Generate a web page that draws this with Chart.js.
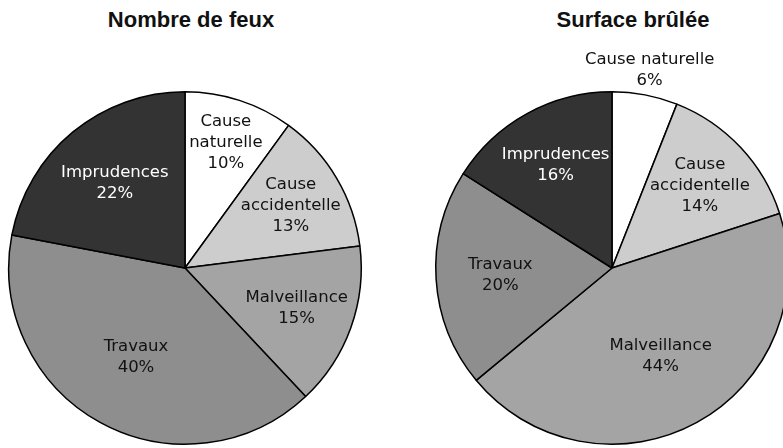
<!DOCTYPE html>
<html>
<head>
<meta charset="utf-8">
<script src="https://cdn.jsdelivr.net/npm/chart.js@4/dist/chart.umd.min.js"></script>
<style>
  html, body { margin: 0; padding: 0; background: #fff; }
  body { width: 783px; height: 448px; overflow: hidden; position: relative; }
  .box { position: absolute; top: 0; height: 448px; }
  .title {
    position: absolute; top: 7px; width: 300px; margin-left: -150px;
    text-align: center; font: bold 22px "Liberation Sans", Arial, sans-serif; color: #111;
    line-height: 26px;
  }
</style>
</head>
<body>
<div class="title" style="left:191px">Nombre de feux</div>
<div class="title" style="left:633px">Surface brûlée</div>
<div class="box" style="left:0px;width:391px"><canvas id="feux"></canvas></div>
<div class="box" style="left:391px;width:400px"><canvas id="surface"></canvas></div>
<script>
// categories, clockwise from 12 o'clock
const categories = ['Cause naturelle', 'Cause accidentelle', 'Malveillance', 'Travaux', 'Imprudences'];
const nombreFeux = [10, 13, 15, 40, 22];
const surfaceBrulee = [6, 14, 44, 20, 16];

const sliceColors = ['#ffffff', '#cdcdcd', '#a4a4a4', '#8e8e8e', '#333333'];
const textColors = ['#111', '#111', '#111', '#111', '#fff'];

// draws "name / value%" inside each slice, small slices get it outside
const sliceLabels = {
    id: 'sliceLabels',
    afterDatasetsDraw(chart) {
        const ctx = chart.ctx;
        const meta = chart.getDatasetMeta(0);
        const values = chart.data.datasets[0].data;
        ctx.save();
        ctx.font = '16.5px "DejaVu Sans", sans-serif';
        ctx.textAlign = 'center';
        ctx.textBaseline = 'middle';
        meta.data.forEach((arc, i) => {
            const {x, y, startAngle, endAngle, outerRadius} =
                arc.getProps(['x', 'y', 'startAngle', 'endAngle', 'outerRadius'], true);
            const mid = (startAngle + endAngle) / 2;
            const outside = values[i] < 8;
            // narrow slices push their text further out
            const r = outerRadius * (outside ? 1.14 : 0.52 + 2.3 / values[i]);
            const lx = x + Math.cos(mid) * r;
            const ly = y + Math.sin(mid) * r;
            const name = chart.data.labels[i];
            const lines = outside ? [name] : name.split(' ');
            lines.push(values[i] + '%');
            ctx.fillStyle = outside ? '#111' : textColors[i];
            const lh = 21;
            lines.forEach((t, k) => {
                ctx.fillText(t, lx, ly + (k - (lines.length - 1) / 2) * lh);
            });
        });
        ctx.restore();
    }
};

function makePie(id, values, padding) {
    return new Chart(document.getElementById(id), {
        type: 'pie',
        plugins: [sliceLabels],
        data: {
            labels: categories,
            datasets: [{
                data: values,
                backgroundColor: sliceColors,
                borderColor: '#000',
                borderWidth: 1.5
            }]
        },
        options: {
            responsive: true,
            maintainAspectRatio: false,
            animation: false,
            layout: { padding },
            plugins: {
                legend: { display: false },
                tooltip: { enabled: false }
            }
        }
    });
}

makePie('feux', nombreFeux, { left: 8, right: 29, top: 91, bottom: 3 });
makePie('surface', surfaceBrulee, { left: 44, right: 2, top: 91, bottom: 3 });
</script>
</body>
</html>
